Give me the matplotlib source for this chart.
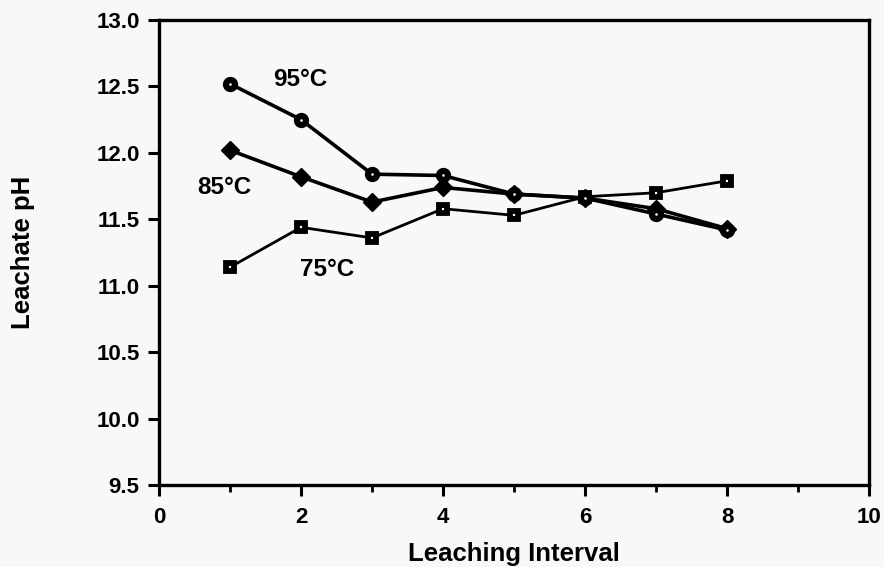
import numpy as np
import matplotlib
matplotlib.use("Agg")
import matplotlib.pyplot as plt
from matplotlib.ticker import MultipleLocator

plt.rcParams['font.family'] = ['Liberation Sans', 'DejaVu Sans']

# leaching interval
interval = [1, 2, 3, 4, 5, 6, 7, 8]

# leachate pH per temperature
ph_95 = [12.52, 12.25, 11.84, 11.83, 11.69, 11.66, 11.54, 11.42]
ph_85 = [12.02, 11.82, 11.63, 11.74, 11.69, 11.66, 11.58, 11.43]
ph_75 = [11.14, 11.44, 11.36, 11.58, 11.53, 11.67, 11.70, 11.79]

labels = ['95°C', '85°C', '75°C']
label_pos = [(1.99, 12.55), (0.92, 11.74), (2.36, 11.12)]

bg = '#f8f8f8'
fig = plt.figure(figsize=(8.84, 5.67), dpi=100, facecolor=bg)
ax = fig.add_axes([0.180, 0.1446, 0.803, 0.820], facecolor=bg)

ax.plot(interval, ph_75, color='black', lw=2.0, marker='s', ms=6.0,
        mfc='white', mec='black', mew=4.2, zorder=3)
ax.plot(interval, ph_85, color='black', lw=2.6, marker='D', ms=9,
        mfc='black', mec='black', zorder=4)
ax.plot(interval, ph_95, color='black', lw=2.6, marker='o', ms=6.5,
        mfc='white', mec='black', mew=4.5, zorder=5)

for txt, (x, y) in zip(labels, label_pos):
    ax.text(x, y, txt, ha='center', va='center', fontsize=17.5,
            fontweight='bold')

ax.set_xlim(0, 10)
ax.set_ylim(9.5, 13.0)
ax.xaxis.set_major_locator(MultipleLocator(2))
ax.xaxis.set_minor_locator(MultipleLocator(1))
ax.yaxis.set_major_locator(MultipleLocator(0.5))
ax.yaxis.set_major_formatter(matplotlib.ticker.FormatStrFormatter('%.1f'))

for s in ax.spines.values():
    s.set_linewidth(2.4)
ax.tick_params(which='major', direction='out', length=8, width=2.2,
               labelsize=16, pad=6)
ax.tick_params(axis='x', which='major', pad=8)
ax.tick_params(which='minor', direction='out', length=5, width=2)
ax.tick_params(top=False, right=False)
for lab in ax.get_xticklabels() + ax.get_yticklabels():
    lab.set_fontweight('bold')

ax.set_xlabel('Leaching Interval', fontsize=18.5, fontweight='bold', labelpad=10)
ax.set_ylabel('Leachate pH', fontsize=18.5, fontweight='bold', labelpad=44)

fig.savefig('out.png', dpi=100, facecolor=bg)
